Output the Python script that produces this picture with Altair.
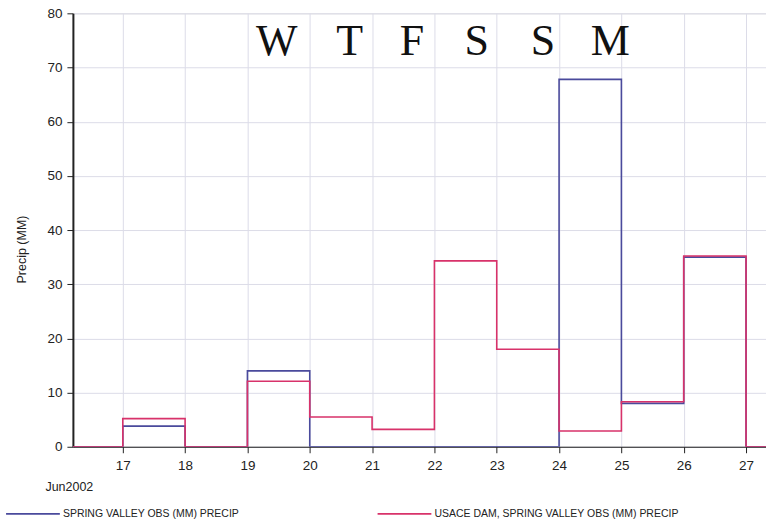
import altair as alt
import pandas as pd

# ---- data ----
days = [17, 18, 19, 20, 21, 22, 23, 24, 25, 26]
blue_vals = [3.8, 0, 14.0, 0, 0, 0, 0, 67.8, 8.0, 35.0]
red_vals = [5.2, 0, 12.1, 5.5, 3.2, 34.3, 18.0, 2.9, 8.3, 35.2]
series_names = ["SPRING VALLEY OBS (MM) PRECIP", "USACE DAM, SPRING VALLEY OBS (MM) PRECIP"]
series_colors = ["#4a4a9c", "#d8326a"]
x_domain = [16.2, 27.32]
end_day = 27

weekday_letters = ["W", "T", "F", "S", "S", "M"]
weekday_x = [19.47, 20.64, 21.64, 22.68, 23.74, 24.82]
weekday_y = 72.3

rows = []
for name, vals in zip(series_names, [blue_vals, red_vals]):
    rows.append({"day": x_domain[0], "precip": 0, "series": name})
    for d, v in zip(days, vals):
        rows.append({"day": d, "precip": v, "series": name})
    rows.append({"day": end_day, "precip": 0, "series": name})
    rows.append({"day": x_domain[1], "precip": 0, "series": name})
df = pd.DataFrame(rows)
df["order"] = range(len(df))

letters = pd.DataFrame({"label": weekday_letters, "x": weekday_x, "y": [weekday_y] * len(weekday_x)})

x_scale = alt.Scale(domain=x_domain, nice=False, zero=False)
y_scale = alt.Scale(domain=[0, 80], nice=False)

lines = alt.Chart(df).mark_line(interpolate="step-after", strokeWidth=1.6, clip=True).encode(
    x=alt.X("day:Q", scale=x_scale,
            axis=alt.Axis(values=list(range(17, 28)), format="d", title="Jun2002",
                          titleX=-28, titleY=40, titleAlign="left", titleBaseline="middle",
                          titleFontSize=12.5, titleFontWeight="normal", titleColor="#222",
                          labelFontSize=13.5, labelColor="#222", labelPadding=6,
                          tickSize=6, tickColor="#222", domainColor="#222", domainWidth=1.2,
                          grid=True, gridColor="#dcdce8", gridWidth=1)),
    y=alt.Y("precip:Q", scale=y_scale,
            axis=alt.Axis(values=list(range(0, 81, 10)), title="Precip (MM)",
                          titleX=-51, titleY=236, titleAlign="center", titleBaseline="middle",
                          titleFontSize=12.5, titleFontWeight="normal", titleColor="#222",
                          labelFontSize=13.5, labelColor="#222", labelPadding=5,
                          tickSize=6, tickColor="#222", domainColor="#222", domainWidth=2,
                          grid=True, gridColor="#dcdce8", gridWidth=1)),
    color=alt.Color("series:N", scale=alt.Scale(domain=series_names, range=series_colors),
                    legend=alt.Legend(orient="none", legendX=-68, legendY=473, direction="horizontal",
                                      title=None, symbolType="stroke", symbolSize=2900,
                                      symbolStrokeWidth=1.6, labelFontSize=10.5, labelColor="#222",
                                      labelOffset=2, columnPadding=134, labelLimit=500,
                                      padding=0)),
    order="order:Q",
)

text = alt.Chart(letters).mark_text(font="Liberation Serif", fontSize=44, color="#111",
                                    align="center", baseline="alphabetic").encode(
    x=alt.X("x:Q", scale=x_scale),
    y=alt.Y("y:Q", scale=y_scale),
    text="label:N",
)

chart = alt.layer(lines, text).properties(
    width=694, height=434,
    autosize=alt.AutoSizeParams(type="none"),
    padding={"left": 73, "top": 13, "right": 0, "bottom": 75},
    background="white",
).configure_view(stroke="#222", strokeWidth=1.2).configure(
    font="Liberation Sans"
)

chart.save("out.html", embed_options={"renderer": "svg", "actions": False})
